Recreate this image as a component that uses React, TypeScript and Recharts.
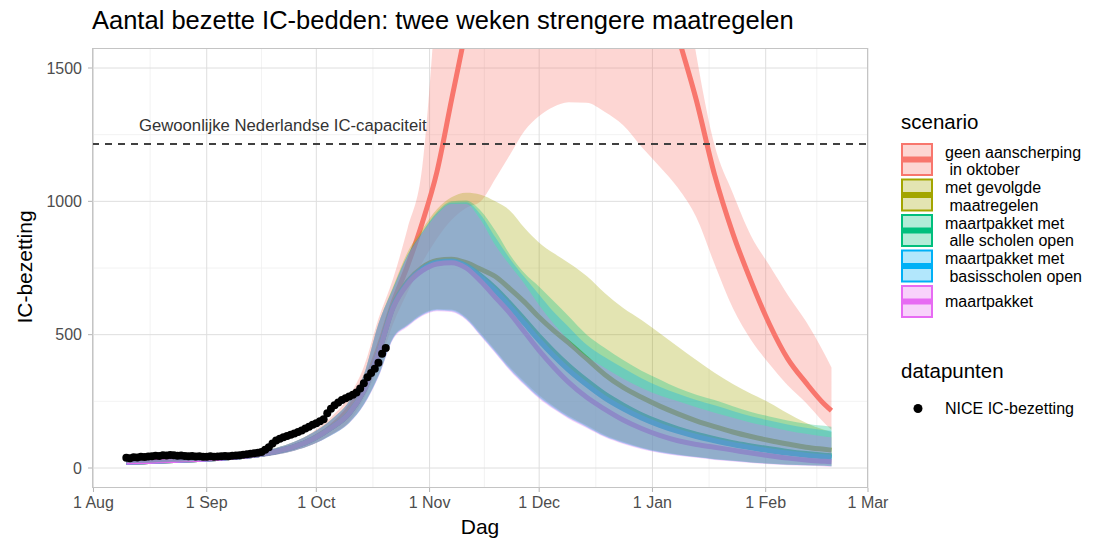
import React from "react";
import {
  ComposedChart,
  Area,
  Line,
  Scatter,
  XAxis,
  YAxis,
  CartesianGrid,
  ReferenceLine,
} from "recharts";

// dagen sinds 1 augustus
const days = [9, 15, 20, 25, 30, 35, 40, 45, 50, 55, 60, 65, 70, 74, 78, 82, 86, 90, 94, 98, 102, 106, 110, 114, 118, 122, 126, 130, 135, 140, 145, 150, 155, 160, 165, 170, 175, 180, 185, 190, 195, 200, 202];

// geen aanscherping in oktober
const redMid = [22, 24, 27, 30, 33, 37, 42, 50, 62, 80, 110, 155, 225, 310, 450, 620, 760, 920, 1110, 1380, 1650, 1950, 2250, 2500, 2700, 2850, 2950, 3000, 2950, 2750, 2450, 2150, 1870, 1620, 1380, 1100, 880, 700, 540, 410, 320, 240, 215];
const redLo = [18, 20, 22, 24, 27, 30, 34, 40, 50, 65, 88, 125, 175, 260, 380, 540, 660, 770, 860, 930, 975, 1000, 1085, 1175, 1265, 1320, 1355, 1372, 1370, 1335, 1285, 1205, 1130, 1050, 940, 765, 600, 480, 390, 310, 245, 170, 143];
const redHi = [27, 29, 32, 36, 40, 44, 50, 60, 75, 98, 135, 190, 270, 380, 560, 710, 900, 1130, 1800, 2600, 3400, 4000, 4000, 4000, 4000, 4000, 4000, 4000, 4000, 4000, 3800, 3400, 2800, 2000, 1550, 1210, 1030, 870, 760, 650, 550, 430, 377];

// met gevolgde maatregelen
const oliveMid = [22, 24, 27, 30, 33, 37, 42, 50, 62, 80, 108, 150, 205, 290, 430, 610, 700, 752, 778, 783, 770, 745, 718, 672, 622, 565, 515, 470, 410, 350, 302, 265, 232, 203, 177, 155, 135, 118, 103, 90, 78, 70, 67];
const oliveLo = [19, 21, 23, 25, 28, 31, 35, 41, 51, 66, 89, 124, 171, 240, 348, 490, 538, 578, 596, 594, 565, 505, 442, 378, 323, 273, 232, 196, 160, 124, 98, 77, 62, 51, 42, 34, 28, 22, 17, 13, 11, 9, 8];
const oliveHi = [27, 29, 32, 36, 40, 44, 50, 60, 75, 98, 132, 180, 250, 350, 540, 680, 810, 895, 970, 1015, 1032, 1025, 1000, 965, 900, 845, 805, 770, 720, 655, 600, 555, 505, 455, 405, 357, 315, 278, 245, 205, 170, 143, 135];

// maartpakket met alle scholen open
const greenMid = [22, 24, 27, 30, 33, 37, 42, 50, 62, 80, 108, 150, 205, 290, 430, 605, 696, 747, 772, 776, 759, 721, 674, 617, 556, 494, 437, 385, 328, 277, 236, 200, 171, 147, 127, 110, 95, 83, 72, 62, 54, 48, 46];
const greenLo = [19, 21, 23, 25, 28, 31, 35, 41, 51, 66, 89, 123, 170, 238, 345, 487, 535, 575, 593, 591, 561, 500, 437, 372, 317, 267, 227, 191, 156, 120, 95, 75, 60, 50, 41, 33, 27, 21, 16, 12, 10, 8, 7];
const greenHi = [27, 29, 32, 36, 40, 44, 50, 60, 75, 98, 132, 180, 250, 350, 540, 675, 800, 885, 960, 1000, 1003, 965, 890, 800, 730, 680, 625, 570, 500, 450, 405, 365, 332, 300, 275, 255, 232, 210, 193, 178, 166, 158, 155];

// maartpakket met basisscholen open
const blueMid = [22, 24, 27, 30, 33, 37, 42, 50, 62, 80, 108, 150, 205, 290, 430, 604, 694, 745, 770, 774, 756, 715, 665, 605, 542, 478, 420, 368, 312, 262, 222, 188, 160, 137, 118, 102, 88, 76, 65, 56, 48, 42, 40];
const blueLo = [18, 20, 22, 24, 27, 30, 34, 40, 50, 65, 88, 122, 169, 237, 343, 485, 533, 573, 591, 588, 558, 497, 433, 368, 313, 263, 223, 188, 153, 118, 93, 73, 58, 48, 40, 32, 26, 21, 16, 12, 10, 8, 7];
const blueHi = [27, 29, 32, 36, 40, 44, 50, 60, 75, 98, 132, 180, 250, 350, 540, 673, 798, 883, 955, 995, 997, 950, 865, 785, 715, 650, 585, 530, 462, 415, 375, 337, 305, 278, 255, 235, 214, 194, 178, 163, 151, 142, 140];

// maartpakket
const pinkMid = [22, 24, 27, 30, 33, 37, 42, 50, 62, 80, 108, 150, 205, 290, 430, 600, 690, 740, 765, 770, 750, 700, 640, 580, 510, 440, 378, 322, 265, 220, 180, 148, 122, 102, 88, 78, 67, 56, 46, 37, 30, 25, 23];
const pinkLo = [18, 20, 22, 24, 27, 30, 34, 40, 50, 65, 88, 122, 168, 235, 340, 482, 530, 570, 588, 585, 555, 494, 430, 365, 310, 260, 220, 185, 150, 115, 90, 70, 56, 46, 38, 30, 24, 19, 14, 10, 8, 6, 5];
const pinkHi = [27, 29, 32, 36, 40, 44, 50, 60, 75, 98, 132, 180, 250, 350, 540, 670, 795, 880, 950, 990, 990, 930, 835, 760, 690, 610, 540, 480, 418, 375, 335, 300, 272, 250, 228, 207, 188, 170, 155, 140, 128, 118, 115];

// NICE IC-bezetting, dag 9 t/m 80
const niceDays = [9, 10, 11, 12, 13, 14, 15, 16, 17, 18, 19, 20, 21, 22, 23, 24, 25, 26, 27, 28, 29, 30, 31, 32, 33, 34, 35, 36, 37, 38, 39, 40, 41, 42, 43, 44, 45, 46, 47, 48, 49, 50, 51, 52, 53, 54, 55, 56, 57, 58, 59, 60, 61, 62, 63, 64, 65, 66, 67, 68, 69, 70, 71, 72, 73, 74, 75, 76, 77, 78, 79, 80];
const niceValues = [38, 37, 40, 39, 42, 41, 43, 44, 46, 45, 48, 47, 49, 48, 46, 47, 45, 44, 45, 43, 44, 42, 42, 44, 42, 43, 44, 45, 44, 46, 47, 48, 50, 52, 53, 55, 57, 60, 68, 78, 92, 103, 110, 115, 120, 125, 129, 135, 141, 148, 155, 162, 168, 175, 183, 205, 222, 235, 246, 255, 262, 268, 275, 283, 298, 318, 340, 356, 372, 395, 428, 450];

const xTicks = [0, 31, 61, 92, 122, 153, 184, 212];
const xTickLabels = ["1 Aug", "1 Sep", "1 Oct", "1 Nov", "1 Dec", "1 Jan", "1 Feb", "1 Mar"];
const xMinor = [15.5, 46, 76.5, 107, 137.5, 168.5, 198];
const yTicks = [0, 500, 1000, 1500];
const yMinor = [250, 750, 1250];
const capacity = 1215;

const scenarios = [
  { key: "red", color: "#F8766D", label: ["geen aanscherping", " in oktober"] },
  { key: "olive", color: "#A3A500", label: ["met gevolgde", " maatregelen"] },
  { key: "green", color: "#00BF7D", label: ["maartpakket met", " alle scholen open"] },
  { key: "blue", color: "#00B0F6", label: ["maartpakket met", " basisscholen open"] },
  { key: "pink", color: "#E76BF3", label: ["maartpakket"] },
];

const table = days.map((day, i) => ({
  day,
  redMid: redMid[i],
  redBand: [redLo[i], redHi[i]],
  oliveMid: oliveMid[i],
  oliveBand: [oliveLo[i], oliveHi[i]],
  greenMid: greenMid[i],
  greenBand: [greenLo[i], greenHi[i]],
  blueMid: blueMid[i],
  blueBand: [blueLo[i], blueHi[i]],
  pinkMid: pinkMid[i],
  pinkBand: [pinkLo[i], pinkHi[i]],
}));

const nice = niceDays.map((day, i) => ({ day, nice: niceValues[i] }));

const FONT = "'Liberation Sans', Arial, Helvetica, sans-serif";
const W = 1093;
const H = 544;
const PLOT = { left: 92, top: 48, right: 868, bottom: 488 };
const X_DOMAIN: [number, number] = [-0.4, 212];
const Y_DOMAIN: [number, number] = [-75, 1575];
const tickStyle = { fill: "#4D4D4D", fontSize: 16, fontFamily: FONT };

export default function App() {
  return (
    <div style={{ position: "absolute", left: 0, top: 0, width: W, height: H, background: "#fff", fontFamily: FONT }}>
      {/* onderste laag: raster, assen en middenlijnen */}
      <div style={{ position: "absolute", left: 0, top: 0 }}>
        <ComposedChart
          width={W}
          height={H}
          data={table}
          margin={{ top: PLOT.top, right: W - PLOT.right, bottom: 0, left: 0 }}
        >
          <CartesianGrid stroke="#EFEFEF" strokeWidth={0.8} horizontalValues={yMinor} verticalValues={xMinor} />
          <CartesianGrid stroke="#DEDEDE" strokeWidth={1} horizontalValues={yTicks} verticalValues={xTicks} />
          <XAxis
            dataKey="day"
            type="number"
            domain={X_DOMAIN}
            allowDataOverflow
            ticks={xTicks}
            tickFormatter={(v) => xTickLabels[xTicks.indexOf(v)] ?? ""}
            height={H - PLOT.bottom}
            axisLine={false}
            tickLine={{ stroke: "#B3B3B3" }}
            tickSize={4}
            tickMargin={5}
            tick={tickStyle}
          />
          <YAxis
            type="number"
            domain={Y_DOMAIN}
            allowDataOverflow
            ticks={yTicks}
            width={PLOT.left}
            axisLine={false}
            tickLine={{ stroke: "#B3B3B3" }}
            tickSize={4}
            tickMargin={6}
            tick={tickStyle}
          />
          {scenarios.map((s) => (
            <Line
              key={s.key + "Mid"}
              type="monotone"
              dataKey={s.key + "Mid"}
              stroke={s.color}
              strokeWidth={5}
              dot={false}
              activeDot={false}
              isAnimationActive={false}
            />
          ))}
        </ComposedChart>
      </div>

      {/* bovenste laag: banden, capaciteitslijn en datapunten */}
      <div style={{ position: "absolute", left: 0, top: 0 }}>
        <ComposedChart
          width={W}
          height={H}
          data={table}
          margin={{ top: PLOT.top, right: W - PLOT.right, bottom: H - PLOT.bottom, left: PLOT.left }}
        >
          <XAxis dataKey="day" type="number" domain={X_DOMAIN} allowDataOverflow hide />
          <YAxis type="number" domain={Y_DOMAIN} allowDataOverflow hide />
          {scenarios.map((s) => (
            <Area
              key={s.key + "Band"}
              type="monotone"
              dataKey={s.key + "Band"}
              stroke="none"
              fill={s.color}
              fillOpacity={0.3}
              dot={false}
              activeDot={false}
              isAnimationActive={false}
            />
          ))}
          <ReferenceLine y={capacity} stroke="#404040" strokeWidth={2} strokeDasharray="7 6" />
          <Scatter
            data={nice}
            dataKey="nice"
            fill="#000"
            isAnimationActive={false}
            shape={(p: any) => <circle cx={p.cx} cy={p.cy} r={4} fill="#000" />}
          />
        </ComposedChart>
      </div>

      <svg
        width={W}
        height={H}
        style={{ position: "absolute", left: 0, top: 0, pointerEvents: "none" }}
        fontFamily={FONT}
      >
        <rect
          x={PLOT.left + 0.5}
          y={PLOT.top + 0.5}
          width={PLOT.right - PLOT.left - 1}
          height={PLOT.bottom - PLOT.top - 1}
          fill="none"
          stroke="#C4C4C4"
          strokeWidth={1}
        />
        <text x={92} y={28.5} fontSize={25.5} fill="#000">
          Aantal bezette IC-bedden: twee weken strengere maatregelen
        </text>
        <text x={139} y={131} fontSize={16.7} fill="#333">
          Gewoonlijke Nederlandse IC-capaciteit
        </text>
        <text x={(PLOT.left + PLOT.right) / 2} y={534} fontSize={21} textAnchor="middle" fill="#000">
          Dag
        </text>
        <text
          x={0}
          y={0}
          fontSize={21}
          textAnchor="middle"
          fill="#000"
          transform="translate(32 267) rotate(-90)"
        >
          IC-bezetting
        </text>

        <text x={901} y={128.5} fontSize={20.5} fill="#000">
          scenario
        </text>
        {scenarios.map((s, i) => {
          const top = 143 + i * 35.5;
          return (
            <g key={s.key}>
              <rect x={902} y={top + 1} width={30} height={31} fill={s.color} fillOpacity={0.3} stroke={s.color} strokeWidth={2} />
              <rect x={903} y={top + 13.5} width={28} height={6} fill={s.color} />
              {s.label.length === 2 ? (
                <>
                  <text x={945} y={top + 14.5} fontSize={16} fill="#000" style={{ whiteSpace: "pre" }}>
                    {s.label[0]}
                  </text>
                  <text x={945} y={top + 32} fontSize={16} fill="#000" style={{ whiteSpace: "pre" }}>
                    {s.label[1]}
                  </text>
                </>
              ) : (
                <text x={945} y={top + 22} fontSize={16} fill="#000">
                  {s.label[0]}
                </text>
              )}
            </g>
          );
        })}

        <text x={901} y={378} fontSize={20.5} fill="#000">
          datapunten
        </text>
        <circle cx={918} cy={408.5} r={4.5} fill="#000" />
        <text x={945} y={414} fontSize={16} fill="#000">
          NICE IC-bezetting
        </text>
      </svg>
    </div>
  );
}
